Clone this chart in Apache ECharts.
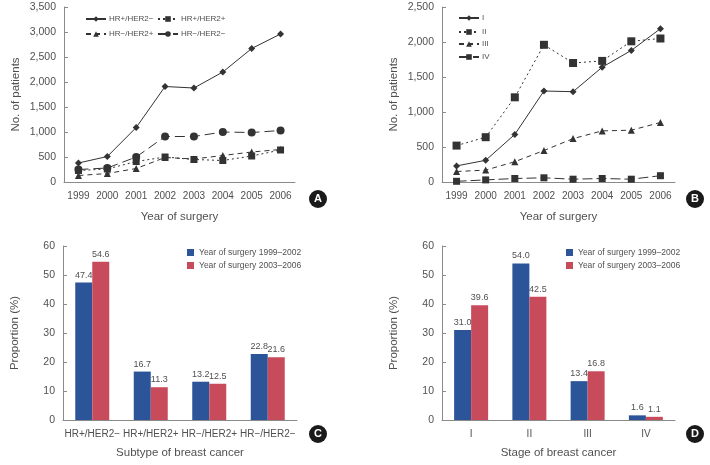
<!DOCTYPE html>
<html>
<head>
<meta charset="utf-8">
<script src="https://cdn.jsdelivr.net/npm/echarts@6/dist/echarts.min.js"></script>
<style>
  html, body { margin: 0; padding: 0; background: #fff; }
  #main { width: 710px; height: 465px; }
</style>
</head>
<body>
<div id="main"></div>
<script>
// years of surgery (panels A, B)
var years = ['1999', '2000', '2001', '2002', '2003', '2004', '2005', '2006'];

// panel A - no. of patients by subtype
var subtypeNames = ['HR+/HER2\u2212', 'HR+/HER2+', 'HR\u2212/HER2+', 'HR\u2212/HER2\u2212'];
var hrPosHer2Neg = [380, 510, 1090, 1910, 1880, 2200, 2670, 2960];
var hrPosHer2Pos = [230, 260, 410, 500, 450, 430, 520, 640];
var hrNegHer2Pos = [130, 170, 270, 490, 460, 530, 600, 650];
var hrNegHer2Neg = [250, 280, 500, 910, 910, 1000, 990, 1030];

// panel B - no. of patients by stage
var stageNames = ['I', 'II', 'III', 'IV'];
var stageI = [230, 310, 680, 1300, 1290, 1640, 1880, 2190];
var stageII = [520, 640, 1210, 1960, 1700, 1730, 2010, 2050];
var stageIII = [150, 170, 290, 450, 620, 730, 740, 850];
var stageIV = [10, 30, 50, 60, 40, 50, 40, 90];

// panel C / D - proportion (%)
var periodNames = ['Year of surgery 1999\u20132002', 'Year of surgery 2003\u20132006'];
var subtypeCats = ['HR+/HER2\u2212', 'HR+/HER2+', 'HR\u2212/HER2+', 'HR\u2212/HER2\u2212'];
var subtypeEarly = [47.4, 16.7, 13.2, 22.8];
var subtypeLate = [54.6, 11.3, 12.5, 21.6];
var stageCats = ['I', 'II', 'III', 'IV'];
var stageEarly = [31.0, 54.0, 13.4, 1.6];
var stageLate = [39.6, 42.5, 16.8, 1.1];

var FONT = 'Liberation Sans, Arial, sans-serif';
var TXT = '#505050';
var AX = '#8a8a8a';
var LINE = '#333';
var BLUE = '#2b5499';
var RED = '#c84b5c';

function fmt(v) {
    return String(v).replace(/\B(?=(\d{3})+(?!\d))/g, ',');
}

function xCat(grid, data, name, gap) {
    return {
        type: 'category', gridIndex: grid, data: data,
        name: name, nameLocation: 'middle', nameGap: gap,
        nameTextStyle: { color: TXT, fontSize: 11.5, fontFamily: FONT },
        axisLine: { lineStyle: { color: AX } },
        axisTick: { inside: true, length: 3, lineStyle: { color: AX } },
        axisLabel: { color: TXT, fontSize: 10, fontFamily: FONT, margin: 9, interval: 0 }
    };
}

function yVal(grid, max, interval, name) {
    return {
        type: 'value', gridIndex: grid, min: 0, max: max, interval: interval,
        name: name, nameLocation: 'middle', nameGap: 42,
        nameTextStyle: { color: TXT, fontSize: 11.5, fontFamily: FONT },
        axisLine: { show: true, lineStyle: { color: AX } },
        axisTick: { show: true, inside: true, length: 4, lineStyle: { color: AX } },
        splitLine: { show: false },
        axisLabel: { color: TXT, fontSize: 10.5, fontFamily: FONT, margin: 8, formatter: fmt }
    };
}

function lineSeries(name, idx, data, symbol, size, dash) {
    return {
        type: 'line', name: name, xAxisIndex: idx, yAxisIndex: idx, data: data,
        symbol: symbol, symbolSize: size, color: LINE,
        lineStyle: { width: 1, color: LINE, type: dash },
        itemStyle: { color: LINE },
        animation: false
    };
}

function barSeries(name, idx, data, color) {
    return {
        type: 'bar', name: name, xAxisIndex: idx, yAxisIndex: idx, data: data,
        barWidth: 17, barGap: '0%', itemStyle: { color: color },
        label: {
            show: true, position: 'top', distance: 3, color: TXT, fontSize: 9, fontFamily: FONT,
            formatter: function (p) { return p.value.toFixed(1); }
        },
        animation: false
    };
}

function lineLegend(name, left, top) {
    return {
        data: [name], left: left, top: top, padding: 0,
        itemWidth: 20, itemHeight: 7, itemGap: 0,
        textStyle: { color: TXT, fontSize: 8, fontFamily: FONT, padding: [0, 0, 0, -2] },
        selectedMode: false
    };
}

function barLegend(left) {
    return {
        data: periodNames, orient: 'vertical', left: left, top: 248, padding: 0,
        itemWidth: 7, itemHeight: 7, itemGap: 4, icon: 'rect',
        textStyle: { color: TXT, fontSize: 8.5, fontFamily: FONT },
        selectedMode: false
    };
}

function badge(letter, x, y) {
    return {
        type: 'group', x: x, y: y,
        children: [
            { type: 'circle', shape: { cx: 0, cy: 0, r: 9 }, style: { fill: '#1a1a1a' } },
            { type: 'text', x: 0, y: 0, style: { text: letter, fill: '#fff', font: 'bold 11px ' + FONT, align: 'center', verticalAlign: 'middle' } }
        ]
    };
}

var chart = echarts.init(document.getElementById('main'));
chart.setOption({
    backgroundColor: '#fff',
    textStyle: { fontFamily: FONT },
    grid: [
        { left: 64, top: 7, width: 231, height: 175 },
        { left: 442, top: 7, width: 233, height: 175 },
        { left: 63, top: 246, width: 234, height: 174 },
        { left: 442, top: 246, width: 233, height: 174 }
    ],
    xAxis: [
        xCat(0, years, 'Year of surgery', 29),
        xCat(1, years, 'Year of surgery', 29),
        xCat(2, subtypeCats, 'Subtype of breast cancer', 27),
        xCat(3, stageCats, 'Stage of breast cancer', 27)
    ],
    yAxis: [
        yVal(0, 3500, 500, 'No. of patients'),
        yVal(1, 2500, 500, 'No. of patients'),
        yVal(2, 60, 10, 'Proportion (%)'),
        yVal(3, 60, 10, 'Proportion (%)')
    ],
    legend: [
        lineLegend(subtypeNames[0], 85, 15),
        lineLegend(subtypeNames[1], 157, 15),
        lineLegend(subtypeNames[2], 85, 30),
        lineLegend(subtypeNames[3], 157, 30),
        lineLegend(stageNames[0], 458, 14),
        lineLegend(stageNames[1], 458, 28),
        lineLegend(stageNames[2], 458, 40),
        lineLegend(stageNames[3], 458, 53),
        barLegend(187),
        barLegend(566)
    ],
    series: [
        lineSeries(subtypeNames[0], 0, hrPosHer2Neg, 'diamond', 7, 'solid'),
        lineSeries(subtypeNames[1], 0, hrPosHer2Pos, 'rect', 7, [2, 3]),
        lineSeries(subtypeNames[2], 0, hrNegHer2Pos, 'triangle', 7, [5, 4]),
        lineSeries(subtypeNames[3], 0, hrNegHer2Neg, 'circle', 8, [10, 5]),
        lineSeries(stageNames[0], 1, stageI, 'diamond', 7, 'solid'),
        lineSeries(stageNames[1], 1, stageII, 'rect', 8, [2, 3]),
        lineSeries(stageNames[2], 1, stageIII, 'triangle', 7, [5, 4]),
        lineSeries(stageNames[3], 1, stageIV, 'rect', 7, [10, 4]),
        barSeries(periodNames[0], 2, subtypeEarly, BLUE),
        barSeries(periodNames[1], 2, subtypeLate, RED),
        barSeries(periodNames[0], 3, stageEarly, BLUE),
        barSeries(periodNames[1], 3, stageLate, RED)
    ],
    graphic: [
        badge('A', 318, 199),
        badge('B', 695, 199),
        badge('C', 318, 434),
        badge('D', 695, 434)
    ]
});
</script>
</body>
</html>
